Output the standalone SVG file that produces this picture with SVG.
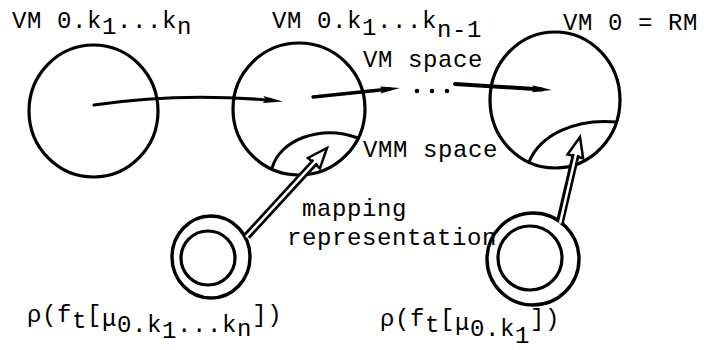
<svg xmlns="http://www.w3.org/2000/svg" width="704" height="350" viewBox="0 0 704 350">
<defs>
<style>
.ring{fill:none;stroke:#000;stroke-width:3.2}
.ring2{fill:none;stroke:#000;stroke-width:3.4}
.arc{fill:none;stroke:#000;stroke-width:3}
.lbl{font-family:"Liberation Mono","DejaVu Sans Mono",monospace;font-size:24px;letter-spacing:0.6px;fill:#000}
.arr{fill:none;stroke:#000;stroke-linecap:round}
.shaftO{fill:none;stroke:#000;stroke-width:8}
.shaftI{fill:none;stroke:#fff;stroke-width:2.5}
.head{fill:#fff;stroke:#000;stroke-width:2.5;stroke-linejoin:miter}
</style>
<marker id="ah" viewBox="0 0 20 8" refX="10" refY="4" markerWidth="20" markerHeight="8" markerUnits="userSpaceOnUse" orient="auto">
<path d="M0,0.5 L20,4 L0,7.5 L3,4 z" fill="#000"/>
</marker>
</defs>
<rect width="704" height="350" fill="#fff"/>

<g id="vm-kn">
<ellipse class="ring" cx="93.5" cy="111" rx="64.5" ry="66"/>
<text class="lbl" x="12" y="28">VM 0.k<tspan dy="6">1</tspan><tspan dy="-6">...k</tspan><tspan dy="6">n</tspan></text>
</g>

<g id="vm-kn-1">
<circle class="ring" cx="299" cy="109" r="66"/>
<path class="arc" d="M272,168 C280,140 320,124 358,138"/>
<text class="lbl" x="272" y="28">VM 0.k<tspan dy="7">1</tspan><tspan dy="-7">...k</tspan><tspan dy="9">n-1</tspan></text>
<text class="lbl" x="363" y="67">VM space</text>
<text class="lbl" x="363" y="157">VMM space</text>
</g>

<g id="vm-0">
<ellipse class="ring" cx="555" cy="100" rx="65" ry="68"/>
<path class="arc" d="M529,162 C540,135 575,118 617,122"/>
<text class="lbl" x="563" y="30">VM 0 = RM</text>
</g>

<g id="dots">
<circle cx="417" cy="91" r="2.3"/>
<circle cx="432" cy="91" r="2.3"/>
<circle cx="447" cy="91" r="2.3"/>
</g>

<g id="mapping-label">
<text class="lbl" x="302" y="216">mapping</text>
<text class="lbl" x="287" y="245">representation</text>
</g>

<g id="map-kn">
<ellipse class="ring2" cx="211" cy="257" rx="39" ry="41"/>
<ellipse class="ring" cx="208" cy="258" rx="27" ry="27"/>
<text class="lbl" x="27" y="322">ρ(f<tspan dy="6">t</tspan><tspan dy="-6">[</tspan><tspan dy="4">μ</tspan><tspan dy="6">0.k</tspan><tspan dy="6">1</tspan><tspan dy="-6">...k</tspan><tspan dy="4">n</tspan><tspan dy="-14">])</tspan></text>
</g>

<g id="map-k1">
<circle class="ring2" cx="533" cy="259" r="46"/>
<circle class="ring" cx="530" cy="258" r="32"/>
<text class="lbl" x="380" y="326">ρ(f<tspan dy="6">t</tspan><tspan dy="-6">[</tspan><tspan dy="4">μ</tspan><tspan dy="6">0.k</tspan><tspan dy="7">1</tspan><tspan dy="-17">])</tspan></text>
</g>

<g id="connectors">
<path class="arr" stroke-width="3" d="M94,105 Q180,92 273,100.5" marker-end="url(#ah)"/>
<path class="arr" stroke-width="3.3" d="M313,97 L390,89" marker-end="url(#ah)"/>
<path class="arr" stroke-width="4" d="M455,84 L542,89.4" marker-end="url(#ah)"/>

<polygon class="head" points="319.9,168.3 327,148 307.9,157.9"/>
<path class="shaftO" d="M247,236 L315.3,161.6"/>
<path class="shaftI" d="M246,237 L317.9,158.6"/>

<polygon class="head" points="583.1,158.3 580,137 567.5,154.5"/>
<path class="shaftO" d="M560,222 L575.8,154.5"/>
<path class="shaftI" d="M560,223.5 L576.7,151"/>
</g>
</svg>
